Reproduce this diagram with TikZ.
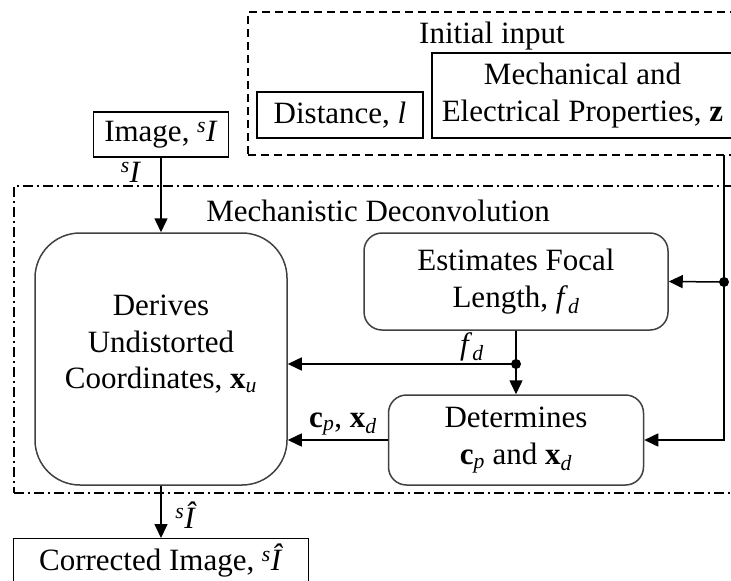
\documentclass[tikz,border=0pt]{standalone}
\usepackage{fontspec}
\setmainfont{Liberation Serif}
\usetikzlibrary{arrows.meta}
\begin{document}
\begin{tikzpicture}[x=1pt,y=-1pt,
  every node/.style={font=\fontsize{31}{36.5}\selectfont, inner sep=0pt},
  box/.style={draw, line width=1.3pt, align=center},
  rbox/.style={draw=black!75, line width=1.5pt, align=center},
  grpdash/.style={draw, line width=1.2pt, dash pattern=on 8pt off 5pt},
  grpdashdot/.style={draw, line width=1.2pt, dash pattern=on 10pt off 4pt on 2pt off 4pt},
  arr/.style={line width=1.5pt, -{Triangle[length=14pt,width=13pt]}},
  ln/.style={line width=1.5pt},
  jdot/.style={circle, fill, inner sep=0pt, minimum size=10pt}]
\useasboundingbox (0,0) rectangle (731,581);
\clip (0,0) rectangle (731,581);

% group boxes
\node[grpdash, minimum width=492pt, minimum height=143pt] (initbox) at (494,83.5) {};
\node (initlbl) at (492,36) {Initial input};
\node[grpdashdot, minimum width=726pt, minimum height=307pt] (mdbox) at (377,339.5) {};
\node (mdlbl) at (378,211) {Mechanistic Deconvolution};

% input boxes
\node[box, minimum width=166pt, minimum height=46pt] (dist) at (340,115) {Distance, \textit{l}};
\node[box, minimum width=301pt, minimum height=85pt] (mech) at (582.5,95.5) {Mechanical and\\Electrical Properties, \textbf{z}};
\node[box, minimum width=135pt, minimum height=45pt] (img) at (161,134.5) {Image, \textsuperscript{\textit{s}}\textit{I}};

% process boxes
\node[rbox, rounded corners=45pt, minimum width=252pt, minimum height=252pt] (derive) at (161,359)
  {Derives\\Undistorted\\Coordinates, \textbf{x}\textsubscript{\textit{u}}\\[-2pt]};
\node[rbox, rounded corners=18pt, minimum width=304pt, minimum height=97pt] (est) at (516,281.5)
  {Estimates Focal\\Length, \textit{f}\textsubscript{\textit{d}}};
\node[rbox, rounded corners=18pt, minimum width=255pt, minimum height=90pt] (det) at (516,440)
  {Determines\\\textbf{c}\textsubscript{\textit{p}} and \textbf{x}\textsubscript{\textit{d}}};

% output box
\node[box, anchor=north west, minimum width=295pt, text height=32pt, text depth=40pt] (corr) at (13,538)
  {Corrected Image, \textsuperscript{\textit{s}}\textit{\^I}};

% connectors
\coordinate (rtop) at (724,155);
\coordinate (j1) at (724,282);
\coordinate (j2) at (516,364);
\draw[ln] (rtop) -- (j1);
\draw[arr] (j1) |- (det.east);
\draw[arr] (j1) -- (est.east);
\node[jdot] (d1) at (j1) {};

\draw[ln] (est.south) -- (j2);
\draw[arr] (j2) -- (det.north);
\draw[arr] (j2) -- (j2 -| derive.east);
\node[jdot] (d2) at (j2) {};

\draw[arr] (det.west) -- (det.west -| derive.east);
\draw[arr] (img.south) -- (derive.north);
\draw[arr] (derive.south) -- (derive.south |- corr.north);

% connector labels
\node[anchor=base] (lI) at (131,182) {\textsuperscript{\textit{s}}\textit{I}};
\node[anchor=base] (lfd) at (472,354) {\textit{f}\textsubscript{\textit{d}}};
\node[anchor=base] (lcx) at (343,427) {\textbf{c}\textsubscript{\textit{p}}, \textbf{x}\textsubscript{\textit{d}}};
\node[anchor=base] (lIh) at (186,528) {\textsuperscript{\textit{s}}\textit{\^I}};
\end{tikzpicture}
\end{document}
